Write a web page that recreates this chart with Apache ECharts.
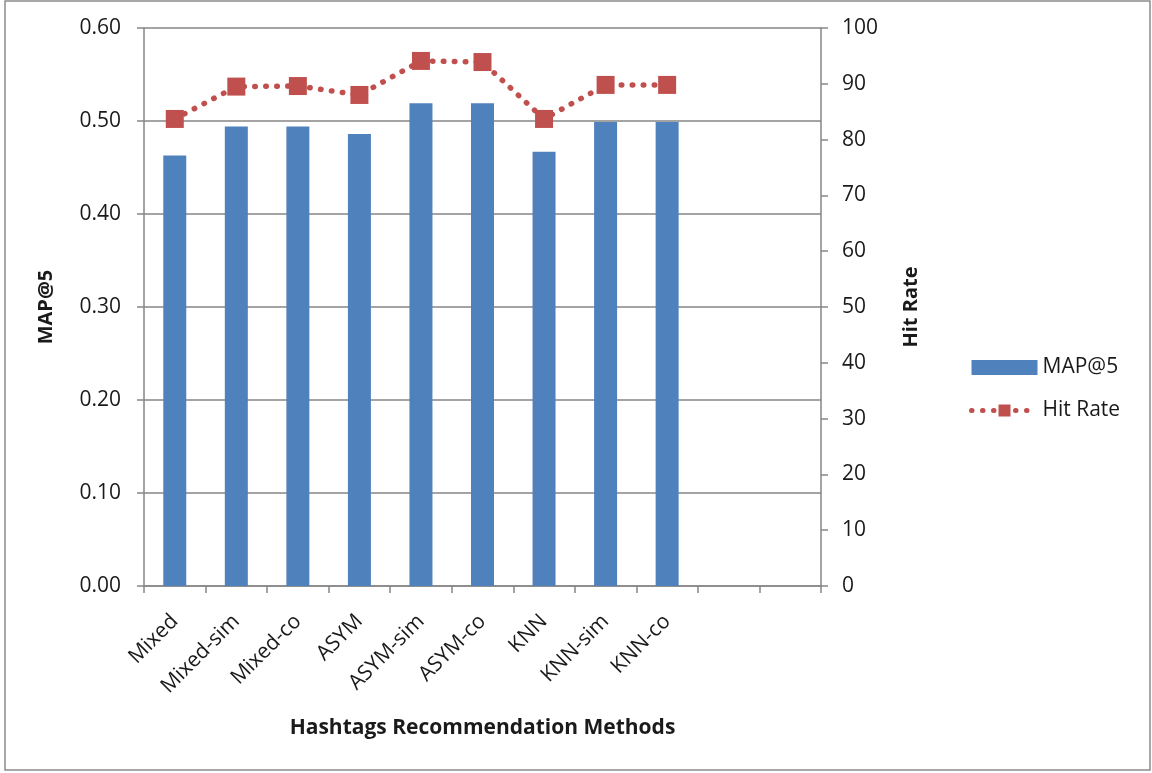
<!DOCTYPE html>
<html>
<head>
<meta charset="utf-8">
<script src="https://cdn.jsdelivr.net/npm/echarts@6/dist/echarts.min.js"></script>
<style>
  html, body { margin: 0; padding: 0; background: #fff; }
  #chart { width: 1152px; height: 773px; }
</style>
</head>
<body>
<div id="chart"></div>
<script>
// Recommendation methods (two trailing empty slots on the category axis)
const methods = ['Mixed', 'Mixed-sim', 'Mixed-co', 'ASYM', 'ASYM-sim', 'ASYM-co', 'KNN', 'KNN-sim', 'KNN-co', '', ''];
// MAP@5 per method (left axis)
const mapAt5 = [0.463, 0.494, 0.494, 0.486, 0.519, 0.519, 0.467, 0.499, 0.499, null, null];
// Hit rate per method (right axis, percent)
const hitRate = [83.7, 89.5, 89.6, 88.0, 94.1, 93.9, 83.7, 89.8, 89.8, null, null];

const FONT = 'Open Sans';
const AXIS_GREY = '#868686';
const TEXT = '#1a1a1a';
const HIT_RED = '#C0504D';

const chart = echarts.init(document.getElementById('chart'), null, { renderer: 'canvas' });

chart.setOption({
  animation: false,
  backgroundColor: '#fff',
  textStyle: { fontFamily: FONT },
  graphic: [{
    type: 'rect',
    shape: { x: 5, y: 1, width: 1145, height: 769 },
    style: { fill: null, stroke: '#8c8c8c', lineWidth: 1.5 },
    silent: true
  }],
  grid: { left: 144, right: 331, top: 28, bottom: 187, containLabel: false },
  legend: {
    orient: 'vertical',
    left: 964,
    top: 352,
    itemGap: 22,
    itemWidth: 66,
    itemHeight: 15,
    textStyle: { fontFamily: FONT, fontSize: 21, color: TEXT, padding: [0, 0, 0, 0] },
    data: [
      { name: 'MAP@5', icon: 'rect' },
      {
        name: 'Hit Rate',
        lineStyle: { color: HIT_RED, width: 5, type: [0.5, 10.5], cap: 'round' }
      }
    ]
  },
  xAxis: {
    type: 'category',
    data: methods,
    boundaryGap: true,
    name: 'Hashtags Recommendation Methods',
    nameLocation: 'middle',
    nameGap: 132,
    nameTextStyle: { fontFamily: FONT, fontSize: 21, fontWeight: 'bold', color: TEXT },
    axisLine: { lineStyle: { color: AXIS_GREY, width: 1.5 } },
    axisTick: { show: true, length: 7, alignWithLabel: false, lineStyle: { color: AXIS_GREY, width: 1.5 } },
    axisLabel: { rotate: 45, margin: 32, fontFamily: FONT, fontSize: 21, color: TEXT, interval: 0 },
    splitLine: { show: false }
  },
  yAxis: [
    {
      type: 'value',
      min: 0, max: 0.6, interval: 0.1,
      position: 'left',
      name: 'MAP@5',
      nameLocation: 'middle',
      nameGap: 88,
      nameRotate: 90,
      nameTextStyle: { fontFamily: FONT, fontSize: 20, fontWeight: 'bold', color: TEXT },
      axisLine: { show: true, lineStyle: { color: AXIS_GREY, width: 1.5 } },
      axisTick: { show: true, length: 7, lineStyle: { color: AXIS_GREY, width: 1.5 } },
      axisLabel: { margin: 23, fontFamily: FONT, fontSize: 21, color: TEXT, formatter: v => v.toFixed(2) },
      splitLine: { show: true, lineStyle: { color: AXIS_GREY, width: 1.5 } }
    },
    {
      type: 'value',
      min: 0, max: 100, interval: 10,
      position: 'right',
      name: 'Hit Rate',
      nameLocation: 'middle',
      nameGap: 80,
      nameRotate: 90,
      nameTextStyle: { fontFamily: FONT, fontSize: 20, fontWeight: 'bold', color: TEXT },
      axisLine: { show: true, lineStyle: { color: AXIS_GREY, width: 1.5 } },
      axisTick: { show: true, length: 7, lineStyle: { color: AXIS_GREY, width: 1.5 } },
      axisLabel: { margin: 21, fontFamily: FONT, fontSize: 21, color: TEXT },
      splitLine: { show: false }
    }
  ],
  series: [
    {
      name: 'MAP@5',
      type: 'bar',
      yAxisIndex: 0,
      data: mapAt5,
      barWidth: 23,
      itemStyle: { color: '#4F81BD' }
    },
    {
      name: 'Hit Rate',
      type: 'line',
      yAxisIndex: 1,
      data: hitRate,
      symbol: 'rect',
      symbolSize: 18,
      showAllSymbol: true,
      itemStyle: { color: HIT_RED },
      lineStyle: { color: HIT_RED, width: 5.5, type: [0.5, 10.5], cap: 'round' },
      z: 5
    }
  ]
});
</script>
</body>
</html>
